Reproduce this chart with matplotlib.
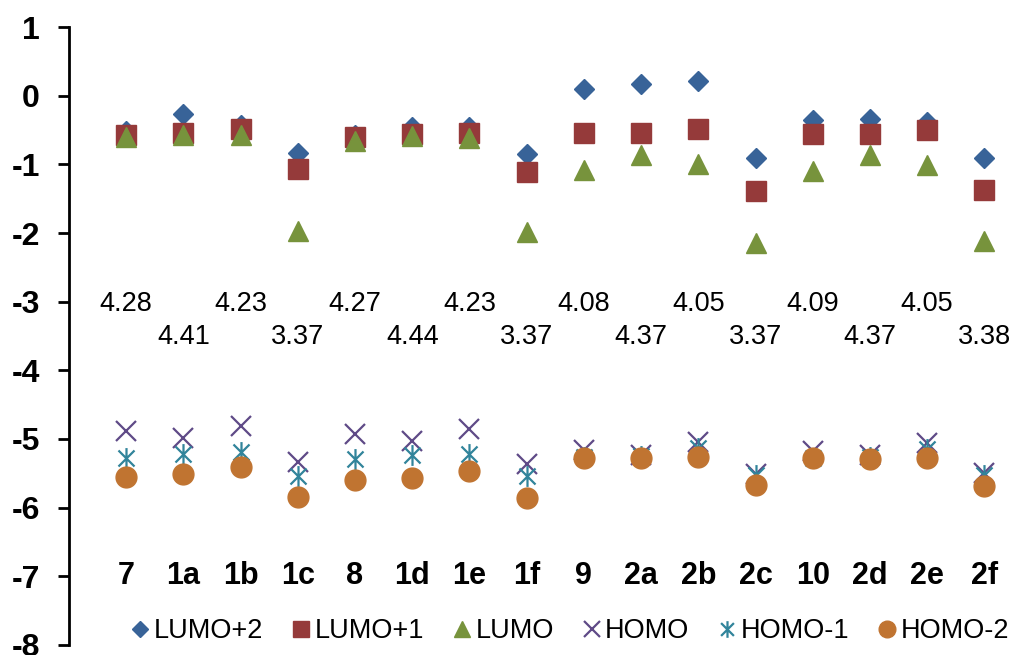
import matplotlib
matplotlib.use("Agg")
import numpy as np
import matplotlib.pyplot as plt
from matplotlib.path import Path

plt.rcParams['font.family'] = ['Liberation Sans', 'DejaVu Sans']
plt.rcParams['axes.unicode_minus'] = False

# categories (molecules)
molecules = ["7", "1a", "1b", "1c", "8", "1d", "1e", "1f",
             "9", "2a", "2b", "2c", "10", "2d", "2e", "2f"]

# orbital energies (eV)
lumo2 = [-0.52, -0.26, -0.42, -0.84, -0.58, -0.45, -0.46, -0.85,
         0.09, 0.17, 0.21, -0.91, -0.36, -0.34, -0.39, -0.91]
lumo1 = [-0.58, -0.54, -0.48, -1.07, -0.60, -0.56, -0.55, -1.11,
         -0.55, -0.55, -0.49, -1.39, -0.56, -0.56, -0.50, -1.37]
lumo = [-0.60, -0.57, -0.58, -1.97, -0.66, -0.59, -0.62, -1.99,
        -1.08, -0.86, -1.00, -2.14, -1.09, -0.87, -1.01, -2.12]
homo = [-4.88, -4.98, -4.81, -5.34, -4.93, -5.03, -4.85, -5.36,
        -5.16, -5.23, -5.05, -5.51, -5.18, -5.24, -5.06, -5.50]
homo1 = [-5.27, -5.22, -5.19, -5.54, -5.29, -5.24, -5.22, -5.54,
         -5.26, -5.25, -5.13, -5.53, -5.27, -5.26, -5.15, -5.52]
homo2 = [-5.56, -5.51, -5.41, -5.84, -5.59, -5.57, -5.46, -5.86,
         -5.27, -5.27, -5.26, -5.67, -5.28, -5.29, -5.28, -5.69]

# HOMO-LUMO gap labels
gaps = ["4.28", "4.41", "4.23", "3.37", "4.27", "4.44", "4.23", "3.37",
        "4.08", "4.37", "4.05", "3.37", "4.09", "4.37", "4.05", "3.38"]

# excel-like star marker: X plus a vertical bar
star = Path([(-1, -1), (1, 1), (-1, 1), (1, -1), (0, -1.3), (0, 1.3)],
            [Path.MOVETO, Path.LINETO, Path.MOVETO, Path.LINETO,
             Path.MOVETO, Path.LINETO])

x = np.arange(1, len(molecules) + 1)

fig = plt.figure(figsize=(10.15, 6.55), dpi=100)
ax = fig.add_axes([69 / 1015, 10 / 655, 1 - 69 / 1015 - 2 / 1015, 618 / 655])

ax.plot(x, lumo2, ls='none', marker='D', ms=10.5, color='#386398', label='LUMO+2')
ax.plot(x, lumo1, ls='none', marker='s', ms=14.5, color='#953A3A', label='LUMO+1')
ax.plot(x, lumo, ls='none', marker='^', ms=14.5, color='#77933C', label='LUMO')
ax.plot(x, homo, ls='none', marker='x', ms=14, mew=1.6, color='#5F4A87', label='HOMO')
ax.plot(x, homo1, ls='none', marker=star, ms=15, mew=1.6, color='#31849B', label='HOMO-1')
ax.plot(x, homo2, ls='none', marker='o', ms=15, color='#C07431', label='HOMO-2')

for i, g in enumerate(gaps):
    yy = -3.03 if i % 2 == 0 else -3.51
    ax.text(x[i], yy, g, ha='center', va='center', fontsize=19.5)

for i, m in enumerate(molecules):
    ax.text(x[i], -7.0, m, ha='center', va='center', fontsize=22, fontweight='bold')

ax.set_xlim(0, 16.5)
ax.set_ylim(-8, 1)
ax.set_yticks(range(-8, 2))
ax.set_xticks([])
for s in ['top', 'right', 'bottom']:
    ax.spines[s].set_visible(False)
ax.spines['left'].set_linewidth(2)
ax.tick_params(axis='y', direction='out', length=8, width=2, labelsize=23, pad=13)
for lab in ax.get_yticklabels():
    lab.set_fontweight('bold')

fig.legend(loc='center', bbox_to_anchor=(570 / 1015, 1 - 631 / 655), ncol=6,
           frameon=False, fontsize=19.5, markerscale=0.8, handlelength=0.7,
           handletextpad=0.15, columnspacing=1.05, borderaxespad=0,
           borderpad=0)

fig.savefig("out.png", dpi=100)
